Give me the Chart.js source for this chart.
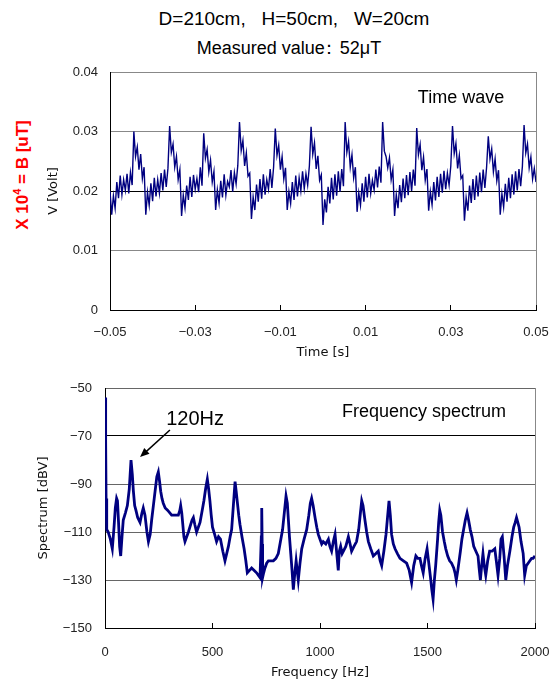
<!DOCTYPE html>
<html>
<head>
<meta charset="utf-8">
<script src="https://cdn.jsdelivr.net/npm/chart.js@4.4.1/dist/chart.umd.min.js"></script>
<style>
body { margin: 0; background: #fff; font-family: "Liberation Sans", Arial, sans-serif; }
#page { position: relative; width: 554px; height: 682px; overflow: hidden; background: #fff; }
.head { position: absolute; left: 17px; width: 554px; text-align: center; line-height: 20px; color: #000; white-space: nowrap; }
#bLabel { position: absolute; left: 22px; top: 175px; transform: translate(-50%, -50%) rotate(-90deg); color: #ff0000; font-weight: bold; font-size: 17px; white-space: nowrap; }
#bLabel sup { font-size: 11px; }
canvas { position: absolute; left: 0; }
</style>
</head>
<body>
<div id="page">
  <div class="head" style="top:9px; font-size:19px">D=210cm,&nbsp;&nbsp; H=50cm,&nbsp;&nbsp; W=20cm</div>
  <div class="head" style="top:38px; font-size:18px; left:12px">Measured value<span style="margin:0 2px 0 -5px">：</span>52μT</div>
  <div id="bLabel">X 10<sup>4</sup> = B [uT]</div>
  <canvas id="timeChart" width="554" height="300" style="top:62px"></canvas>
  <canvas id="specChart" width="554" height="306" style="top:376px"></canvas>
</div>
<script>
const timeStart = -0.05;
const timeStep = 0.0004;
const voltValues = [
  0.0200, 0.0160, 0.0192, 0.0171, 0.0215, 0.0188, 0.0226, 0.0194, 0.0219, 0.0201, 0.0229, 0.0196, 0.0231, 0.0210, 0.0300,
  0.0258, 0.0274, 0.0236, 0.0262, 0.0221, 0.0240, 0.0160, 0.0198, 0.0176, 0.0213, 0.0183, 0.0222, 0.0191, 0.0219, 0.0196, 0.0230, 0.0201, 0.0236, 0.0207, 0.0238,
  0.0309, 0.0265, 0.0279, 0.0240, 0.0258, 0.0219, 0.0236, 0.0158, 0.0193, 0.0172, 0.0209, 0.0185, 0.0224, 0.0190, 0.0227, 0.0203, 0.0221, 0.0198, 0.0240, 0.0209,
  0.0297, 0.0255, 0.0270, 0.0232, 0.0252, 0.0215, 0.0233, 0.0168, 0.0202, 0.0180, 0.0217, 0.0189, 0.0228, 0.0193, 0.0216, 0.0207, 0.0235, 0.0199, 0.0231, 0.0212, 0.0243,
  0.0316, 0.0268, 0.0285, 0.0242, 0.0264, 0.0225, 0.0230, 0.0153, 0.0190, 0.0168, 0.0211, 0.0182, 0.0220, 0.0187, 0.0228, 0.0194, 0.0219, 0.0203, 0.0237, 0.0205, 0.0240,
  0.0305, 0.0260, 0.0277, 0.0236, 0.0258, 0.0220, 0.0239, 0.0168, 0.0199, 0.0179, 0.0215, 0.0185, 0.0226, 0.0191, 0.0222, 0.0200, 0.0233, 0.0204, 0.0229, 0.0210, 0.0242,
  0.0308, 0.0262, 0.0281, 0.0237, 0.0259, 0.0218, 0.0227, 0.0143, 0.0186, 0.0164, 0.0207, 0.0179, 0.0222, 0.0186, 0.0228, 0.0192, 0.0233, 0.0199, 0.0237, 0.0208,
  0.0316, 0.0265, 0.0283, 0.0240, 0.0261, 0.0222, 0.0240, 0.0165, 0.0197, 0.0176, 0.0213, 0.0182, 0.0224, 0.0189, 0.0229, 0.0196, 0.0218, 0.0202, 0.0236, 0.0206, 0.0241, 0.0214,
  0.0316, 0.0267, 0.0258, 0.0239, 0.0256, 0.0219, 0.0236, 0.0158, 0.0194, 0.0171, 0.0210, 0.0181, 0.0221, 0.0188, 0.0227, 0.0193, 0.0232, 0.0200, 0.0236, 0.0209,
  0.0306, 0.0261, 0.0278, 0.0235, 0.0257, 0.0218, 0.0237, 0.0167, 0.0199, 0.0177, 0.0215, 0.0184, 0.0224, 0.0190, 0.0229, 0.0197, 0.0234, 0.0203, 0.0230, 0.0210, 0.0242,
  0.0309, 0.0263, 0.0280, 0.0238, 0.0260, 0.0221, 0.0226, 0.0150, 0.0189, 0.0167, 0.0209, 0.0180, 0.0220, 0.0185, 0.0226, 0.0191, 0.0231, 0.0198, 0.0236, 0.0205, 0.0240,
  0.0292, 0.0254, 0.0271, 0.0232, 0.0254, 0.0217, 0.0235, 0.0160, 0.0195, 0.0173, 0.0212, 0.0182, 0.0222, 0.0188, 0.0228, 0.0194, 0.0233, 0.0201, 0.0237, 0.0208, 0.0241,
  0.0311, 0.0264, 0.0279, 0.0239, 0.0257, 0.0220, 0.0238, 0.0215
];
const timeTickLabels = ["\u22120.05", "\u22120.03", "\u22120.01", "0.01", "0.03", "0.05"];
const voltTickLabels = ["0", "0.01", "0.02", "0.03", "0.04"];

const specFreqs = [
  0, 3, 5, 8, 15, 25, 34, 42, 48, 54, 58, 63, 68, 73, 79, 85, 95, 104, 113, 121, 127, 132, 138, 144, 152, 163, 172, 178, 186, 195,
  202, 210, 217, 225, 233, 241, 248, 254, 259, 265, 271, 280, 292, 310, 325, 341, 348, 352, 357, 361, 367, 372, 380, 388, 398, 405,
  411, 418, 426, 434, 442, 452, 460, 468, 476, 482, 488, 494, 500, 510, 519, 528, 537, 548, 558, 566, 574, 582, 589, 597, 605, 610,
  616, 622, 628, 637, 647, 655, 662, 672, 682, 694, 705, 713, 721, 727, 729, 731, 733, 738, 744, 752, 760, 772, 783, 795, 806, 816,
  826, 834, 842, 848, 853, 858, 864, 870, 876, 882, 889, 894, 899, 907, 915, 926, 938, 948, 955, 961, 968, 977, 985, 992, 1000, 1008,
  1015, 1027, 1039, 1046, 1054, 1062, 1070, 1078, 1085, 1090, 1096, 1103, 1109, 1120, 1132, 1140, 1147, 1158, 1170, 1180, 1188, 1194,
  1200, 1209, 1217, 1225, 1236, 1248, 1260, 1271, 1280, 1287, 1297, 1307, 1314, 1321, 1327, 1333, 1341, 1349, 1360, 1372, 1388, 1403,
  1415, 1426, 1436, 1446, 1455, 1465, 1472, 1480, 1489, 1498, 1506, 1514, 1520, 1526, 1532, 1538, 1547, 1552, 1557, 1562, 1570, 1578,
  1585, 1594, 1603, 1612, 1622, 1628, 1634, 1641, 1653, 1660, 1668, 1676, 1684, 1691, 1699, 1707, 1715, 1725, 1735, 1740, 1746, 1752,
  1758, 1764, 1771, 1780, 1789, 1800, 1813, 1820, 1828, 1836, 1842, 1848, 1856, 1864, 1872, 1883, 1893, 1901, 1908, 1914, 1920, 1926,
  1935, 1945, 1952, 1960, 1968, 1976, 1984, 1991, 2000
];
const specLevels = [
  -54, -72, -96, -109, -110, -113, -117, -108, -100, -96, -97, -106, -116, -120, -112, -105, -102, -99, -92, -80, -86, -93, -99, -101, -104, -106, -102, -100, -103, -110,
  -114, -111, -105, -99, -93, -87, -85, -89, -93, -96, -98, -100, -101, -103, -103, -103, -101, -99, -102, -106, -112, -114, -112, -110, -107, -105,
  -104, -107, -110, -108, -106, -101, -97, -92, -88, -92, -97, -103, -108, -111, -114, -112, -113, -118, -122, -119, -116, -112, -109, -99, -89, -93,
  -98, -103, -107, -112, -117, -122, -127, -126, -125, -126, -127, -128, -129, -112, -100, -115, -129, -127, -125, -123, -122, -122, -122, -121, -119, -114,
  -109, -102, -95, -98, -105, -112, -119, -126, -134, -128, -122, -126, -130, -123, -117, -113, -109, -103, -98, -96, -99, -104, -108, -111, -113, -115,
  -114, -115, -113, -116, -118, -114, -111, -119, -126, -118, -116, -119, -118, -116, -112, -115, -118, -116, -114, -109, -102, -97,
  -99, -105, -110, -114, -117, -120, -119, -118, -122, -124, -118, -111, -104, -97, -103, -111, -115, -117, -119, -121, -122, -123,
  -126, -131, -124, -120, -121, -121, -124, -127, -121, -117, -123, -129, -134, -138, -130, -124, -113, -106, -101, -103, -110, -114,
  -117, -120, -122, -123, -125, -127, -130, -126, -118, -113, -109, -105, -102, -105, -109, -112, -116, -118, -120, -125, -130, -124,
  -119, -124, -128, -122, -118, -118, -117, -122, -128, -121, -113, -112, -120, -130, -124, -118, -112, -108, -106, -104, -106, -108,
  -114, -119, -128, -124, -123, -122, -121, -121, -120
];
const freqTickLabels = ["0", "500", "1000", "1500", "2000"];
const specTickLabels = ["\u2212150", "\u2212130", "\u2212110", "\u221290", "\u221270", "\u221250"];

const tickFont = { family: "'Liberation Sans', Arial, sans-serif", size: 13 };
const titleFont = { family: "'DejaVu Sans', sans-serif", size: 13 };
const lineNavy = "#000080";

// Skalen-Innenabstände abschalten, damit die Plotfläche genau sitzt
function fixScale(size, horizontal) {
  return function (s) {
    if (horizontal) s.height = size; else s.width = size;
    s.paddingLeft = 0; s.paddingRight = 0; s.paddingTop = 0; s.paddingBottom = 0;
  };
}

// Beschriftungen im Diagramm (Texte und Pfeil), Lage in Datenkoordinaten
const panelText = {
  id: "panelText",
  afterDraw(chart, args, opts) {
    const ctx = chart.ctx;
    const xs = chart.scales.x, ys = chart.scales.y;
    ctx.save();
    ctx.fillStyle = "#000";
    ctx.textAlign = "center";
    ctx.textBaseline = "middle";
    (opts.labels || []).forEach((l) => {
      ctx.font = l.size + "px 'Liberation Sans', Arial, sans-serif";
      ctx.fillText(l.text, xs.getPixelForValue(l.x), ys.getPixelForValue(l.y));
    });
    if (opts.arrow) {
      const a = opts.arrow;
      const x1 = xs.getPixelForValue(a.fromX), y1 = ys.getPixelForValue(a.fromY);
      const x2 = xs.getPixelForValue(a.toX), y2 = ys.getPixelForValue(a.toY);
      const ang = Math.atan2(y2 - y1, x2 - x1);
      ctx.strokeStyle = "#000";
      ctx.lineWidth = 1.5;
      ctx.beginPath();
      ctx.moveTo(x1, y1);
      ctx.lineTo(x2 - 6 * Math.cos(ang), y2 - 6 * Math.sin(ang));
      ctx.stroke();
      ctx.beginPath();
      ctx.moveTo(x2, y2);
      ctx.lineTo(x2 - 10 * Math.cos(ang - 0.4), y2 - 10 * Math.sin(ang - 0.4));
      ctx.lineTo(x2 - 10 * Math.cos(ang + 0.4), y2 - 10 * Math.sin(ang + 0.4));
      ctx.closePath();
      ctx.fill();
    }
    ctx.restore();
  }
};

const timeChart = new Chart(document.getElementById("timeChart"), {
  type: "line",
  data: {
    datasets: [{
      data: voltValues.map((v, i) => ({ x: timeStart + i * timeStep, y: v })),
      borderColor: lineNavy,
      borderWidth: 1.4,
      pointRadius: 0,
      tension: 0
    }]
  },
  options: {
    responsive: false,
    animation: false,
    layout: { padding: { top: 10, right: 18, left: 45, bottom: 0 } },
    plugins: {
      legend: { display: false },
      tooltip: { enabled: false },
      panelText: { labels: [{ text: "Time wave", x: 0.0324, y: 0.0356, size: 18 }] }
    },
    scales: {
      x: {
        type: "linear", min: -0.05, max: 0.05,
        ticks: { stepSize: 0.02, padding: 20, color: "#222", font: tickFont, callback: (v, i) => timeTickLabels[i] },
        grid: { color: (c) => c.index === 5 ? "#888" : "rgba(0,0,0,0)", tickColor: "#000", tickLength: -5 },
        border: { color: "#000" },
        title: { display: true, text: "Time [s]", color: "#111", font: titleFont, padding: { top: 0, bottom: 2 } },
        afterFit: fixScale(52, true)
      },
      y: {
        min: 0, max: 0.04,
        ticks: { stepSize: 0.01, padding: 12, color: "#222", font: tickFont, callback: (v, i) => voltTickLabels[i] },
        grid: { drawTicks: false, color: (c) => c.index === 2 ? "#000" : "#888" },
        border: { color: "#000" },
        title: { display: true, text: "V [Volt]", color: "#111", font: titleFont, padding: { top: 1, bottom: 0 } },
        afterFit: fixScale(65, false)
      }
    }
  },
  plugins: [panelText]
});

const specChart = new Chart(document.getElementById("specChart"), {
  type: "line",
  data: {
    datasets: [{
      data: specFreqs.map((f, i) => ({ x: f, y: specLevels[i] })),
      borderColor: lineNavy,
      borderWidth: 2.8,
      pointRadius: 0,
      tension: 0
    }]
  },
  options: {
    responsive: false,
    animation: false,
    layout: { padding: { top: 12, right: 19, left: 35, bottom: 0 } },
    plugins: {
      legend: { display: false },
      tooltip: { enabled: false },
      panelText: {
        labels: [
          { text: "Frequency spectrum", x: 1484, y: -60, size: 18 },
          { text: "120Hz", x: 419, y: -63.3, size: 20 }
        ],
        arrow: { fromX: 302, fromY: -67.5, toX: 163, toY: -78.8 }
      }
    },
    scales: {
      x: {
        type: "linear", min: 0, max: 2000,
        ticks: { stepSize: 500, padding: 22, color: "#222", font: tickFont, callback: (v, i) => freqTickLabels[i] },
        grid: { color: (c) => c.index === 4 ? "#888" : "rgba(0,0,0,0)", tickColor: "#000", tickLength: -5 },
        border: { color: "#000" },
        title: { display: true, text: "Frequency [Hz]", color: "#111", font: titleFont, padding: { top: 0, bottom: 2 } },
        afterFit: fixScale(54, true)
      },
      y: {
        min: -150, max: -50,
        ticks: { stepSize: 20, padding: 13, color: "#222", font: tickFont, callback: (v, i) => specTickLabels[i] },
        grid: { drawTicks: false, color: (c) => c.index === 4 ? "#000" : "#666" },
        border: { color: "#000" },
        title: { display: true, text: "Spectrum [dBV]", color: "#111", font: titleFont, padding: { top: 1, bottom: 0 } },
        afterFit: fixScale(70, false)
      }
    }
  },
  plugins: [panelText]
});
</script>
</body>
</html>
